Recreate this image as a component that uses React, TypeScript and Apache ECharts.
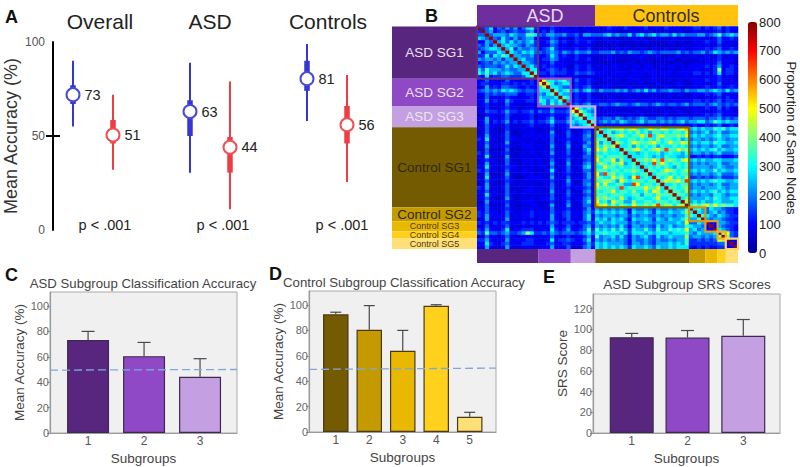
import React, { useEffect, useRef } from "react";
import * as echarts from "echarts";

// ---- Panel A ----
const groupTitles = ["Overall", "ASD", "Controls"];
const meanValues = [72, 50.5, 63, 44, 80.5, 56];
const meanLabels = ["73", "51", "63", "44", "81", "56"];
const whiskerLow = [55, 32, 30.5, 11, 58, 25.5];
const whiskerHigh = [90, 72, 89, 79, 99, 82.5];
const boxLow = [67, 46, 50, 30.5, 74, 46];
const boxHigh = [77, 58.5, 69, 49.5, 90, 66];
const pLabels = ["p < .001", "p < .001", "p < .001"];

// ---- Panel B ----
const subgroupNames = ["ASD SG1", "ASD SG2", "ASD SG3", "Control SG1", "Control SG2", "Control SG3", "Control SG4", "Control SG5"];
const subgroupStart = [0, 15, 23, 29, 52, 56, 59, 61];
const subgroupEnd = [15, 23, 29, 52, 56, 59, 61, 64];
const colorbarTicks = [0, 100, 200, 300, 400, 500, 600, 700, 800];
const levelKeys = "0123456789abcd";
const levelValues = [20, 45, 70, 100, 135, 180, 235, 290, 350, 420, 490, 560, 660, 780];
// upper triangle of the matrix, one row per node, read by eye
const matrixRows = [
  "d45735464635784 33243232 231322 32343324323342332433323 344243452433",
  "d5634524544563 34253233 231232 22232212232232122322322 233232342432",
  "d566657655887 54665564 453665 55675655746756756657565 556645685676",
  "d54754645663 32354232 243323 22322212232321232223222 233232353343",
  "d6757565674 33465343 243343 22232322223232222232232 232343353232",
  "d676654654 23354232 232232 11212212212121212122122 223232242322",
  "d68465565 34574332 343342 22322323222322322322232 233343453343",
  "d7657675 54565465 465564 45556454655456545555645 455645765656",
  "d665564 33475343 243232 22232212222322232122322 232232243232",
  "d67554 34465332 342342 21232221222322122232122 223232342332",
  "d6654 23353232 232232 22122212221222122212221 222232352322",
  "d675 34343332 243342 32323323233233223233232 333343463343",
  "d77 33454342 343343 22322322232232322232232 233232493443",
  "d8 44354443 354454 33323333233323323332333 344343473443",
  "d 23343232 232232 22232222322222322222223 232232342332",
  "da776786 353343 22322322233222322232322 233343343232",
  "d975677 243342 22232223222322232222322 233232352333",
  "d77655 343453 22322222322232222322322 232343343343",
  "d8678 564675 46555656456575645565546 556656765756",
  "d766 343342 22322323223232232232322 233343453332",
  "d87 243243 22232222322222322232222 232232342433",
  "d6 343343 33233323332333233323333 344343453443",
  "d 454564 45545655456554565455456 455545654545",
  "da7676 22322222322232223223222 232343352432",
  "d9765 32232322223222322322322 233232343332",
  "d876 22323222322322222322232 232343453332",
  "d77 44554654545654455454555 455545564545",
  "d8 45656576556756656565675 667756876766",
  "d 33233333233323333233332 343343453343",
  "d87899a89a878a98a9889ab 676766878677",
  "d7867878797868878788 79 565675675566",
  "d889a8788a8c79a88898a 676766786677",
  "d78778878787978 87867 566565676566",
  "d9878a9889a878a88a9 676776877667",
  "d778687878687787 87 565665675566",
  "d889a8789a8c88a89 676767867667",
  "d776787786787768 566565675556",
  "d7778767687 7667 334343443334",
  "d8898a8c89879a 676766776667",
  "d787c8a878878 565656675566",
  "d78787876878 566665676556",
  "d8878a98789 676766867667",
  "d788878788 565665675556",
  "d878a7879 445454564445",
  "d8a99a8c 676767877667",
  "d778788 565665675566",
  "d88789 566566676566",
  "d8879 676767867677",
  "d887 565665776566",
  "d79 666676876677",
  "d9 676766776667",
  "d 8989a8a89887",
  "d78657665443",
  "d7656756443",
  "d876576544",
  "d65665443",
  "d3366544",
  "d365443",
  "d76543",
  "d9a54",
  "d954",
  "d32",
  "d3",
  "d",
];

// ---- Panels C, D, E ----
const ascTickValues = [0, 20, 40, 60, 80, 100];
const srsTickValues = [0, 20, 40, 60, 80, 100, 120];
const asdSubgroups = [1, 2, 3];
const controlSubgroups = [1, 2, 3, 4, 5];
const asdAccuracy = [73.2, 60.5, 44.2];
const asdAccuracyTop = [80, 71.3, 58.5];
const controlAccuracy = [92.6, 80.5, 64, 99.4, 12];
const controlAccuracyTop = [94.3, 99.5, 80, 100.2, 15.5];
const srsScores = [92.3, 92, 93.7];
const srsScoresTop = [96, 98.8, 109.4];
const chanceLevelC = [49.5, 50];
const chanceLevelD = [49.3, 50.3];

const asdColors = ["#58267f", "#8f49c6", "#c49fe2"];
const controlColors = ["#745a00", "#c39a00", "#e9b800", "#ffd01c", "#ffdf78"];
const stripColors = [...asdColors, ...controlColors];
const frameColors = ["#5f2f86", "#9a4fc4", "#c9abef", "#7d6200", "#c89a1c", "#e0a020", "#efaf22", "#ffd266"];
const stripTextColors = ["#e8e0ee", "#e8e0ee", "#ece4f4", "#2e2a10", "#2e2a10", "#4a3a10", "#4a3a10", "#4a3a10"];
const stripFontSizes = [13.5, 13.5, 13.5, 13.5, 13.5, 9, 9, 9];
const jetRamp = ["#00008f", "#0000ff", "#0080ff", "#00ffff", "#80ff80", "#ffff00", "#ff8000", "#ff0000", "#800000"];

const FONT = "'Liberation Sans', Arial, sans-serif";

function buildMatrix() {
  const n = matrixRows.length;
  const out: number[][] = [];
  matrixRows.forEach((raw, i) => {
    const row = raw.replace(/\s+/g, "");
    for (let k = 0; k < n - i; k++) {
      const idx = levelKeys.indexOf(row[k] ?? "2");
      const v = levelValues[idx < 0 ? 2 : idx];
      out.push([i + k, i, v]);
      if (k > 0) out.push([i, i + k, v]);
    }
  });
  return out;
}

function whiskerItem(_: any, api: any) {
  const x = api.value(0);
  const c = api.value(5) ? "#ee3d42" : "#3636d6";
  const seg = (lo: number, hi: number, w: number) => {
    const a = api.coord([x, lo]);
    const b = api.coord([x, hi]);
    return { type: "line", shape: { x1: a[0], y1: a[1], x2: b[0], y2: b[1] }, style: { stroke: c, lineWidth: w } };
  };
  return { type: "group", children: [seg(api.value(1), api.value(2), 2), seg(api.value(3), api.value(4), 5.5)] };
}

function errorItem(_: any, api: any) {
  const x = api.value(0);
  const a = api.coord([x, api.value(1)]);
  const b = api.coord([x, api.value(2)]);
  const half = api.value(3);
  const style = { stroke: "#4a4550", lineWidth: 1.2 };
  return {
    type: "group",
    children: [
      { type: "line", shape: { x1: a[0], y1: a[1], x2: b[0], y2: b[1] }, style },
      { type: "line", shape: { x1: b[0] - half, y1: b[1], x2: b[0] + half, y2: b[1] }, style },
    ],
  };
}

function subgroupItem(_: any, api: any) {
  const i = api.value(2);
  const s = api.value(0);
  const e = api.value(1);
  const size = api.size([1, 1]);
  const a = api.coord([s, s]);
  const b = api.coord([e - 1, e - 1]);
  const x0 = a[0] - size[0] / 2;
  const y0 = a[1] - size[1] / 2;
  const x1 = b[0] + size[0] / 2;
  const y1 = b[1] + size[1] / 2;
  return {
    type: "group",
    children: [
      { type: "rect", shape: { x: 392, y: y0, width: 85, height: y1 - y0 }, style: { fill: stripColors[i] } },
      { type: "rect", shape: { x: x0, y: 249, width: x1 - x0, height: 14 }, style: { fill: stripColors[i] } },
      {
        type: "rect",
        shape: { x: x0, y: y0, width: x1 - x0, height: y1 - y0 },
        style: { fill: "none", stroke: frameColors[i], lineWidth: 2.2 },
      },
      {
        type: "text",
        style: {
          text: subgroupNames[i],
          x: 434.5,
          y: (y0 + y1) / 2,
          align: "center",
          verticalAlign: "middle",
          font: `${stripFontSizes[i]}px ${FONT}`,
          fill: stripTextColors[i],
        },
      },
    ],
  };
}

function barPanel(opts: {
  gridIndex: number;
  xs: number[];
  values: number[];
  tops: number[];
  colors: string[];
  xMin: number;
  xMax: number;
  yMax: number;
  ticks: number[];
  barWidth: number;
  capHalf: number;
  outline: string;
  chance?: number[];
  yName: string;
  yGap: number;
}) {
  const { gridIndex, xs, values, tops, colors, xMin, xMax, yMax, ticks, barWidth, capHalf, outline, chance, yName, yGap } = opts;
  const axisColor = "#9a9a9a";
  const xAxis = {
    gridIndex,
    type: "value",
    min: xMin,
    max: xMax,
    splitLine: { show: false },
    axisLine: { show: true, onZero: false, lineStyle: { color: axisColor, width: 1.2 } },
    axisTick: { show: false },
    axisLabel: { customValues: xs, color: "#555", fontSize: 12, fontFamily: FONT, margin: 2 },
    name: "Subgroups",
    nameLocation: "middle",
    nameGap: 18,
    nameTextStyle: { fontSize: 13.5, color: "#444", fontFamily: FONT },
  };
  const yAxis = {
    gridIndex,
    type: "value",
    min: 0,
    max: yMax,
    splitLine: { show: false },
    axisLine: { show: true, lineStyle: { color: axisColor, width: 1.2 } },
    axisTick: { show: true, customValues: ticks, length: 3, lineStyle: { color: axisColor } },
    axisLabel: { customValues: ticks, color: "#666", fontSize: 11, fontFamily: FONT, margin: 1 },
    name: yName,
    nameLocation: "middle",
    nameGap: yGap,
    nameTextStyle: { fontSize: 13.5, color: "#444", fontFamily: FONT },
  };
  const series: any[] = [
    {
      type: "bar",
      xAxisIndex: gridIndex,
      yAxisIndex: gridIndex,
      barWidth,
      data: xs.map((x, i) => ({
        value: [x, values[i]],
        itemStyle: { color: colors[i], borderColor: outline, borderWidth: 1.2 },
      })),
    },
    {
      type: "custom",
      xAxisIndex: gridIndex,
      yAxisIndex: gridIndex,
      renderItem: errorItem,
      encode: { x: 0, y: [1, 2] },
      data: xs.map((x, i) => [x, values[i], tops[i], capHalf]),
      z: 3,
    },
  ];
  if (chance) {
    series.push({
      type: "line",
      xAxisIndex: gridIndex,
      yAxisIndex: gridIndex,
      symbol: "none",
      silent: true,
      data: [
        [xMin, chance[0]],
        [xMax, chance[1]],
      ],
      lineStyle: { color: "#7fa9d6", width: 1.3, type: [8, 4] },
      z: 4,
    });
  }
  return { xAxis, yAxis, series };
}

export default function App() {
  const ref = useRef<HTMLDivElement>(null);
  useEffect(() => {
    if (!ref.current) return;
    const chart = echarts.init(ref.current, null, { renderer: "svg" });
    const groupSlots = [0.5, 1.5, 3.425, 4.425, 6.35, 7.35];
    const nodes = matrixRows.map((_, i) => String(i));

    const c = barPanel({
      gridIndex: 3, xs: asdSubgroups, values: asdAccuracy, tops: asdAccuracyTop, colors: asdColors,
      xMin: 0.32, xMax: 3.66, yMax: 111, ticks: ascTickValues, barWidth: 42, capHalf: 6.5,
      outline: "#3c2a4e", chance: chanceLevelC, yName: "Mean Accuracy (%)", yGap: 19,
    });
    const d = barPanel({
      gridIndex: 4, xs: controlSubgroups, values: controlAccuracy, tops: controlAccuracyTop, colors: controlColors,
      xMin: 0.2, xMax: 5.785, yMax: 111, ticks: ascTickValues, barWidth: 25.5, capHalf: 5.5,
      outline: "#4a3a14", chance: chanceLevelD, yName: "Mean Accuracy (%)", yGap: 19,
    });
    const e = barPanel({
      gridIndex: 5, xs: asdSubgroups, values: srsScores, tops: srsScoresTop, colors: asdColors,
      xMin: 0.306, xMax: 3.658, yMax: 134, ticks: srsTickValues, barWidth: 44, capHalf: 6.5,
      outline: "#3c2a4e", yName: "SRS Score", yGap: 22,
    });

    const hidden = { show: false };
    const panelGrid = { show: true, backgroundColor: "#f0f0f0", borderColor: "#aaa", borderWidth: 1 };
    const letter = (text: string, left: number, top: number) => ({
      text, left, top, padding: 0,
      textStyle: { fontSize: 18, fontWeight: "bold", color: "#111", fontFamily: FONT },
    });
    const heading = (text: string, left: number, top: number, size: number, color: string) => ({
      text, left, top, padding: 0, textAlign: "center",
      textStyle: { fontSize: size, fontWeight: "normal", color, fontFamily: FONT },
    });

    chart.setOption({
      animation: false,
      backgroundColor: "#ffffff",
      textStyle: { fontFamily: FONT },
      title: [
        letter("A", 5, 8),
        letter("B", 425, 7),
        letter("C", 5, 266),
        letter("D", 269, 265),
        letter("E", 543, 268),
        heading(groupTitles[0], 100, 11, 21, "#222"),
        heading(groupTitles[1], 210, 11, 21, "#222"),
        heading(groupTitles[2], 328, 11, 21, "#222"),
        heading("ASD Subgroup Classification Accuracy", 143, 277, 13.2, "#444"),
        heading("Control Subgroup Classification Accuracy", 404, 276, 13.2, "#444"),
        heading("ASD Subgroup SRS Scores", 687, 277, 13.5, "#444"),
      ],
      graphic: [
        { type: "rect", silent: true, shape: { x: 477, y: 5, width: 118, height: 21 }, style: { fill: "#6e2e9e" } },
        { type: "rect", silent: true, shape: { x: 595, y: 5, width: 143, height: 21 }, style: { fill: "#ffc20e" } },
        {
          type: "text", silent: true, x: 545, y: 16,
          style: { text: "ASD", font: `18px ${FONT}`, fill: "#e4dcee", align: "center", verticalAlign: "middle" },
        },
        {
          type: "text", silent: true, x: 666, y: 16,
          style: { text: "Controls", font: `18px ${FONT}`, fill: "#33301a", align: "center", verticalAlign: "middle" },
        },
        {
          type: "text", silent: true, x: 791, y: 138, rotation: -Math.PI / 2,
          style: { text: "Proportion of Same Nodes", font: `13px ${FONT}`, fill: "#222", align: "center", verticalAlign: "middle" },
        },
        { type: "line", silent: true, shape: { x1: 46, y1: 136, x2: 60, y2: 136 }, style: { stroke: "#000", lineWidth: 2 } },
        ...pLabels.map((t, i) => ({
          type: "text", silent: true, x: [105, 223, 342][i], y: 225,
          style: { text: t, font: `14.5px ${FONT}`, fill: "#222", align: "center", verticalAlign: "middle" },
        })),
      ],
      grid: [
        { left: 53, top: 42, width: 320, height: 188, outerBoundsMode: "none" },
        { left: 477, top: 26.5, width: 261, height: 222.5, outerBoundsMode: "none" },
        { left: 748, top: 22, width: 9, height: 231, outerBoundsMode: "none" },
        { left: 50, top: 292, width: 187, height: 141, outerBoundsMode: "none", ...panelGrid },
        { left: 309, top: 291, width: 187, height: 141, outerBoundsMode: "none", ...panelGrid },
        { left: 593, top: 294, width: 187, height: 139, outerBoundsMode: "none", ...panelGrid },
      ],
      xAxis: [
        { gridIndex: 0, type: "value", min: 0, max: 8, show: false },
        { gridIndex: 1, type: "category", data: nodes, show: false },
        { gridIndex: 2, type: "value", min: 0, max: 1, show: false },
        c.xAxis,
        d.xAxis,
        e.xAxis,
      ],
      yAxis: [
        {
          gridIndex: 0, type: "value", min: 0, max: 100,
          splitLine: hidden,
          axisLine: { show: true, lineStyle: { color: "#000", width: 2 } },
          axisTick: { show: false },
          axisLabel: { customValues: [0, 50, 100], color: "#555", fontSize: 12, fontFamily: FONT, margin: 8 },
          name: "Mean Accuracy (%)",
          nameLocation: "middle",
          nameGap: 33,
          nameTextStyle: { fontSize: 18, color: "#333", fontFamily: FONT },
        },
        { gridIndex: 1, type: "category", data: nodes, show: false, inverse: true },
        {
          gridIndex: 2, type: "value", min: 0, max: 800, position: "right",
          splitLine: hidden,
          axisLine: hidden,
          axisTick: hidden,
          axisLabel: { customValues: colorbarTicks, color: "#222", fontSize: 13, fontFamily: FONT, margin: 2 },
        },
        c.yAxis,
        d.yAxis,
        e.yAxis,
      ],
      visualMap: {
        type: "continuous",
        seriesIndex: 2,
        dimension: 2,
        min: 0,
        max: 800,
        calculable: false,
        hoverLink: false,
        left: 748,
        top: 22,
        padding: 0,
        itemWidth: 9,
        itemHeight: 231,
        text: null,
        inRange: { color: jetRamp },
      },
      series: [
        {
          type: "custom",
          xAxisIndex: 0,
          yAxisIndex: 0,
          renderItem: whiskerItem,
          encode: { x: 0, y: [1, 2] },
          data: groupSlots.map((x, i) => [x, whiskerLow[i], whiskerHigh[i], boxLow[i], boxHigh[i], i % 2]),
          z: 2,
        },
        {
          type: "scatter",
          xAxisIndex: 0,
          yAxisIndex: 0,
          symbolSize: 13,
          z: 3,
          data: groupSlots.map((x, i) => ({
            value: [x, meanValues[i]],
            itemStyle: { color: "#fff", opacity: 1, borderColor: i % 2 ? "#ee5054" : "#4a4ad8", borderWidth: 2 },
            label: {
              show: true,
              position: "right",
              distance: 4,
              formatter: meanLabels[i],
              fontSize: 14.5,
              color: "#222",
              fontFamily: FONT,
            },
          })),
        },
        {
          type: "heatmap",
          xAxisIndex: 1,
          yAxisIndex: 1,
          data: buildMatrix(),
          progressive: 0,
          emphasis: { disabled: true },
        },
        {
          type: "custom",
          xAxisIndex: 1,
          yAxisIndex: 1,
          renderItem: subgroupItem,
          encode: { x: 0, y: 1 },
          clip: false,
          silent: true,
          data: subgroupStart.map((s, i) => [s, subgroupEnd[i], i]),
          z: 5,
        },
        {
          type: "line",
          xAxisIndex: 2,
          yAxisIndex: 2,
          data: [],
        },
        ...c.series,
        ...d.series,
        ...e.series,
      ],
    });
    return () => chart.dispose();
  }, []);
  return <div ref={ref} style={{ position: "absolute", left: 0, top: 0, width: 800, height: 467 }} />;
}
